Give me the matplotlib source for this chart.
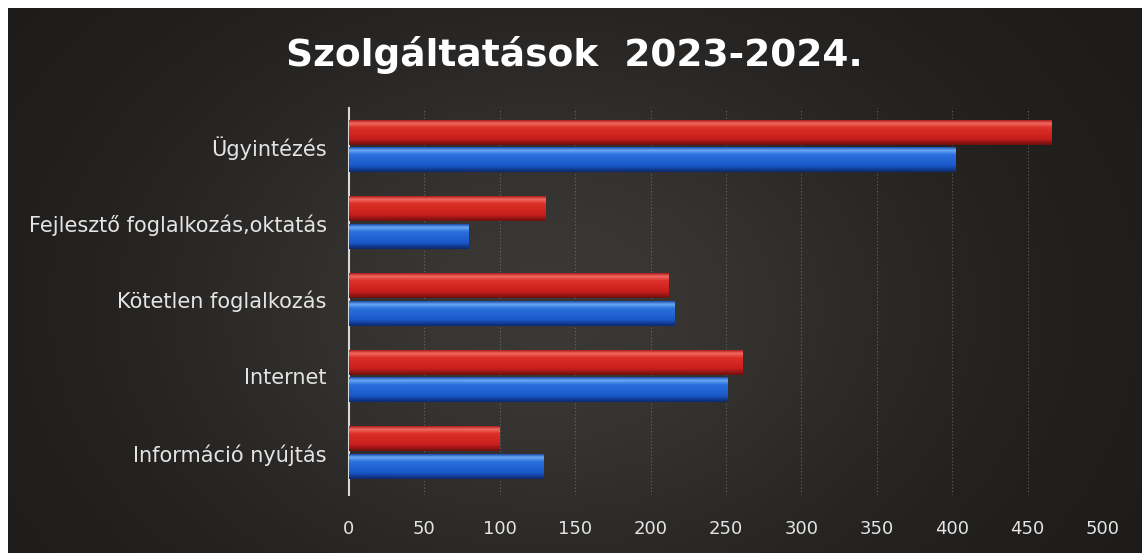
import numpy as np
import matplotlib.pyplot as plt
from matplotlib.colors import to_rgb

# ==================== DATA ====================

categories = ['Ügyintézés', 'Fejlesztő foglalkozás,oktatás', 'Kötetlen foglalkozás',
              'Internet', 'Információ nyújtás']
values_red = [466, 130, 212, 261, 100]
values_blue = [402, 79, 216, 251, 129]
x_ticks = [0, 50, 100, 150, 200, 250, 300, 350, 400, 450, 500]

W, H = 1148, 553


def bar_gradient(stops, n=40):
    """Vertical gradient (top -> bottom) for a cylinder-looking bar"""
    pos = np.array([p for p, _ in stops])
    cols = np.array([to_rgb(c) for _, c in stops])
    t = np.linspace(0, 1, n)
    rgb = np.stack([np.interp(t, pos, cols[:, k]) for k in range(3)], axis=1)
    return rgb[:, None, :]


red_grad = bar_gradient([(0, '#b02020'), (0.12, '#f06a60'), (0.3, '#dc3028'),
                         (0.75, '#c81e1c'), (1, '#701010')])
blue_grad = bar_gradient([(0, '#2050b0'), (0.12, '#6aa8f4'), (0.3, '#2a70dc'),
                          (0.75, '#1a58c8'), (1, '#0c2a70')])

fig = plt.figure(figsize=(W / 100, H / 100), dpi=100, facecolor='white')

# dark panel with soft light in the middle
bg = fig.add_axes([8 / W, 0, (1142 - 8) / W, 1 - 8 / H])
gx, gy = np.meshgrid(np.linspace(-1, 1, 300), np.linspace(-1, 1, 150))
glow = np.exp(-((gx + 0.05) ** 2 / 0.5 + (gy - 0.1) ** 2 / 1.2))
base = np.array([0.11, 0.105, 0.10])
light = np.array([0.23, 0.22, 0.21])
bg.imshow(base + glow[..., None] * (light - base), aspect='auto', extent=[0, 1, 0, 1])
bg.set_axis_off()

ax = fig.add_axes([349 / W, 1 - 495 / H, (1103 - 349) / W, (495 - 108) / H])
ax.set_facecolor('none')

y = np.arange(len(categories))
h = 0.32
off = 0.18

red_bars = ax.barh(y - off, values_red, height=h, color='none', zorder=3)
blue_bars = ax.barh(y + off, values_blue, height=h, color='none', zorder=3)

# fill every bar with its gradient (y axis is inverted, so top = smaller y)
for bars, grad in [(red_bars, red_grad), (blue_bars, blue_grad)]:
    for b in bars:
        x0, y0 = b.get_x(), b.get_y()
        ax.imshow(grad, aspect='auto', origin='upper', zorder=3,
                  extent=(x0, x0 + b.get_width(), y0 + b.get_height(), y0))

ax.set_xlim(0, 500)
ax.set_ylim(len(categories) - 0.45, -0.5)
ax.set_xticks(x_ticks)
ax.set_yticks(y)
ax.set_yticklabels(categories)

ax.tick_params(axis='both', length=0)
ax.tick_params(axis='x', pad=18, labelsize=13)
ax.tick_params(axis='y', pad=16, labelsize=15)
for lbl in ax.get_xticklabels() + ax.get_yticklabels():
    lbl.set_fontfamily('DejaVu Sans')
    lbl.set_color('#e4e4e4')

ax.grid(axis='x', color='#8a8a80', linestyle=(0, (1, 2)), linewidth=0.8, alpha=0.6, zorder=0)
for side in ['top', 'right', 'bottom']:
    ax.spines[side].set_visible(False)
ax.spines['left'].set_color('#d8d8d8')
ax.spines['left'].set_linewidth(1.5)

fig.text(0.5, 1 - 55 / H, 'Szolgáltatások  2023-2024.', ha='center', va='center',
         color='white', fontsize=27, fontweight='bold', fontfamily='DejaVu Sans')

fig.savefig('out.png', dpi=100, facecolor='white')
